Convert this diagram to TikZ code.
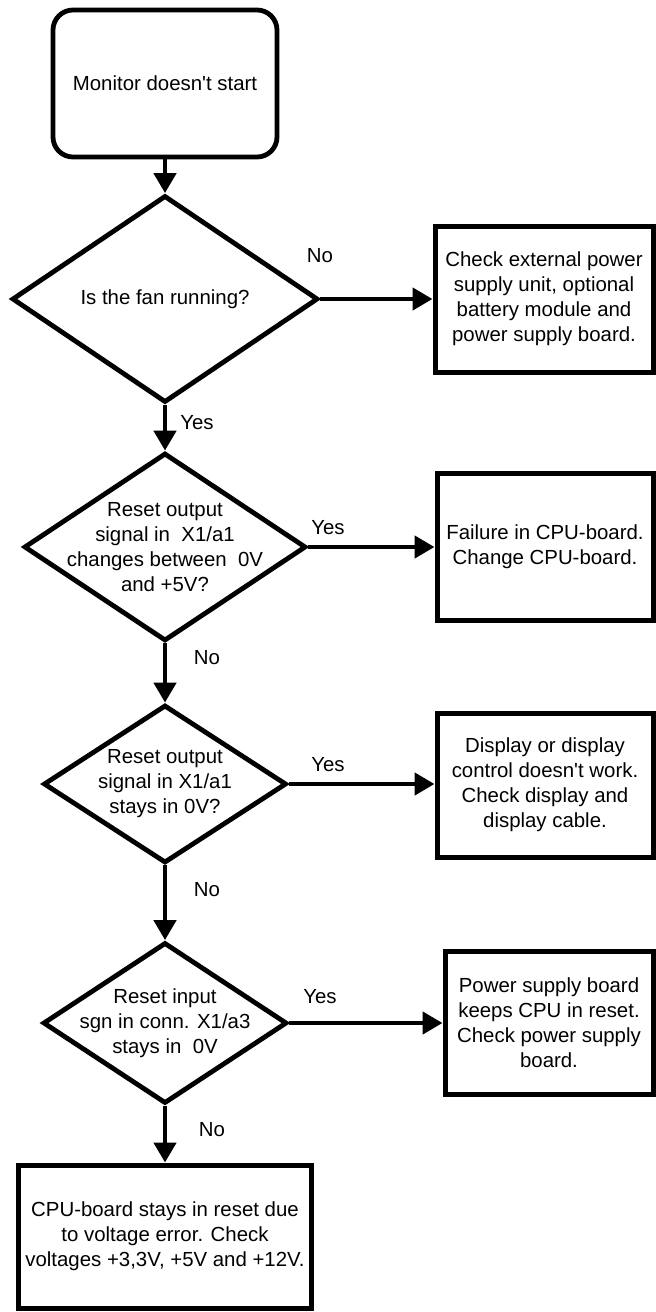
\documentclass[tikz,border=0pt]{standalone}
\usepackage{fontspec}
\setmainfont{Liberation Sans}
\usetikzlibrary{
    arrows.meta,
    positioning,
    shapes.geometric,
}

\begin{document}
\begin{tikzpicture}[
        x=0.5pt, y=-0.5pt,
        every node/.style={font=\fontsize{10.2}{12.5}\selectfont},
        startbox/.style={rectangle, rounded corners=10pt, draw, line width=2.4pt,
            minimum width=112pt, minimum height=73.5pt, inner sep=0pt},
        decision/.style={diamond, draw, line width=2.4pt, inner sep=0pt},
        qtext/.style={align=center, inner sep=0pt},
        action/.style={rectangle, draw, line width=2.5pt, align=center,
            inner sep=0pt},
        answer/.style={inner sep=0pt},
        flow/.style={line width=2.3pt, -{Triangle[length=10pt, width=11pt]}},
    ]
        \useasboundingbox (0,0) rectangle (656,1312);

        \node[startbox] (start) at (165, 83.5) {Monitor doesn\textquotesingle t start};

        % questions
        \node[decision, minimum width=153pt, minimum height=103.5pt] (fan) at (165, 299) {};
        \node[qtext] (fan-t) at (fan) {Is the fan running?};
        \node[decision, minimum width=141pt, minimum height=94pt] (swing) at (165, 547) {};
        \node[qtext] (swing-t) at (swing) {Reset output\\signal in~ X1/a1\\changes between~ 0V\\and +5V?};
        \node[decision, minimum width=121.5pt, minimum height=79pt] (low) at (165, 784) {};
        \node[qtext] (low-t) at (low) {Reset output\\signal in X1/a1\\stays in 0V?};
        \node[decision, minimum width=122pt, minimum height=80.5pt] (input) at (165, 1023) {};
        \node[qtext] (input-t) at (input) {Reset input\\sgn in conn. X1/a3\\stays in~ 0V};

        % actions
        \node[action, minimum width=109pt, minimum height=73pt] (psu) at (544, 299)
            {Check external power\\supply unit, optional\\battery module and\\power supply board.};
        \node[action, minimum width=108pt, minimum height=73.5pt] (cpu) at (545, 547)
            {Failure in CPU-board.\\Change CPU-board.};
        \node[action, minimum width=108pt, minimum height=72pt] (disp) at (545, 785)
            {Display or display\\control doesn\textquotesingle t work.\\Check display and\\display cable.};
        \node[action, minimum width=104pt, minimum height=71.5pt] (board) at (549, 1023)
            {Power supply board\\keeps CPU in reset.\\Check power supply\\board.};
        \node[action, minimum width=146.5pt, minimum height=71.5pt] (volt) at (165, 1236.5)
            {CPU-board stays in reset due\\to voltage error. Check\\voltages +3,3V, +5V and +12V.};

        % arrows
        \draw[flow] (start) -- (fan);
        \draw[flow] (fan) -- (swing);
        \draw[flow] (swing) -- (low);
        \draw[flow] (low) -- (input);
        \draw[flow] (input) -- (volt);
        \draw[flow] (fan.east) -- (fan.east -| psu.west);
        \draw[flow] (swing.east) -- (swing.east -| cpu.west);
        \draw[flow] (low.east) -- (low.east -| disp.west);
        \draw[flow] (input.east) -- (input.east -| board.west);

        % answers
        \node[answer] (no1) at (320, 256) {No};
        \node[answer] (yes1) at (197, 423) {Yes};
        \node[answer] (yes2) at (328, 528) {Yes};
        \node[answer] (no2) at (207, 658) {No};
        \node[answer] (yes3) at (328, 765) {Yes};
        \node[answer] (no3) at (207, 890) {No};
        \node[answer] (yes4) at (320, 997) {Yes};
        \node[answer] (no4) at (212, 1130) {No};
    \end{tikzpicture}
\end{document}
